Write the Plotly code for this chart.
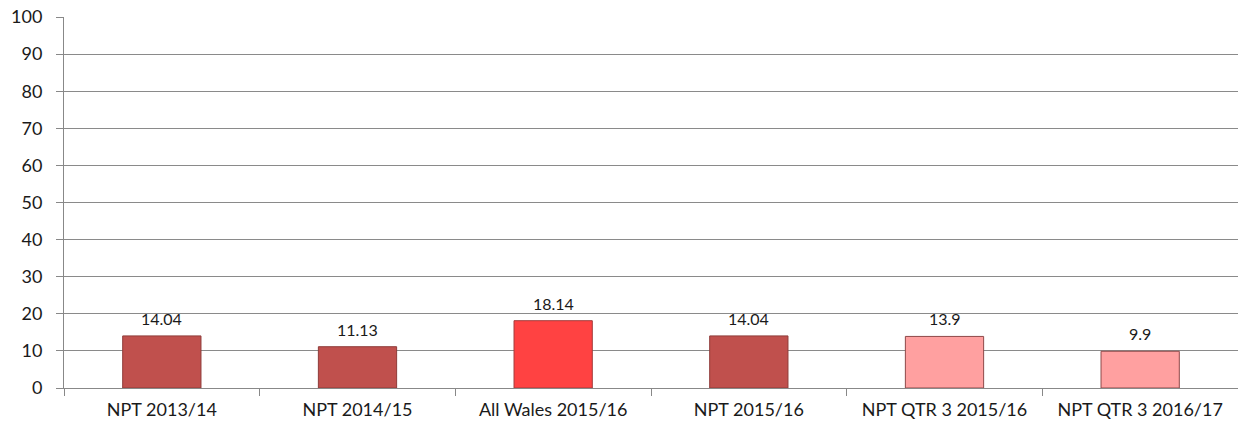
import plotly.graph_objects as go

categories = ["NPT 2013/14", "NPT 2014/15", "All Wales 2015/16", "NPT 2015/16",
              "NPT QTR 3 2015/16", "NPT QTR 3 2016/17"]
values = [14.04, 11.13, 18.14, 14.04, 13.9, 9.9]
labels = ["14.04", "11.13", "18.14", "14.04", "13.9", "9.9"]
fill_colors = ["#C0504D", "#C0504D", "#FF4242", "#C0504D", "#FFA0A0", "#FFA0A0"]
line_colors = ["#8E3B39", "#8E3B39", "#A33A3A", "#8E3B39", "#8E4848", "#8E4848"]
y_ticks = list(range(0, 101, 10))

font_family = "Lato, Open Sans, sans-serif"
text_color = "#1a1a1a"

fig = go.Figure()
fig.add_trace(go.Bar(
    x=categories, y=values,
    marker=dict(color=fill_colors, line=dict(color=line_colors, width=1)),
    width=0.4,
    hoverinfo="skip",
))

for c, v, t in zip(categories, values, labels):
    fig.add_annotation(x=c, y=v, text=t, showarrow=False, yanchor="bottom",
                       yshift=6, font=dict(family=font_family, size=16, color=text_color))

fig.update_layout(
    width=1238, height=428,
    margin=dict(l=64, r=0, t=17, b=40),
    paper_bgcolor="white", plot_bgcolor="white",
    showlegend=False,
    font=dict(family=font_family, color=text_color),
)
fig.update_xaxes(
    type="category", tickson="boundaries", ticks="outside", ticklen=7,
    tickcolor="#888888", showline=True, linecolor="#888888", linewidth=1,
    showgrid=False, automargin=False, ticklabelstandoff=5,
    tickfont=dict(size=18, family=font_family, color=text_color),
)
fig.update_yaxes(
    range=[0, 100], tickvals=y_ticks, ticks="outside", ticklen=7,
    tickcolor="#888888", showline=True, linecolor="#888888", linewidth=1,
    showgrid=True, gridcolor="#8a8a8a", gridwidth=1, zeroline=False,
    automargin=False, ticklabelstandoff=10,
    tickfont=dict(size=18, family=font_family, color=text_color),
)

fig.write_html(
    "out.html",
    config={"displayModeBar": False},
    post_script="document.body.style.margin='0';document.body.style.overflow='hidden';",
)
